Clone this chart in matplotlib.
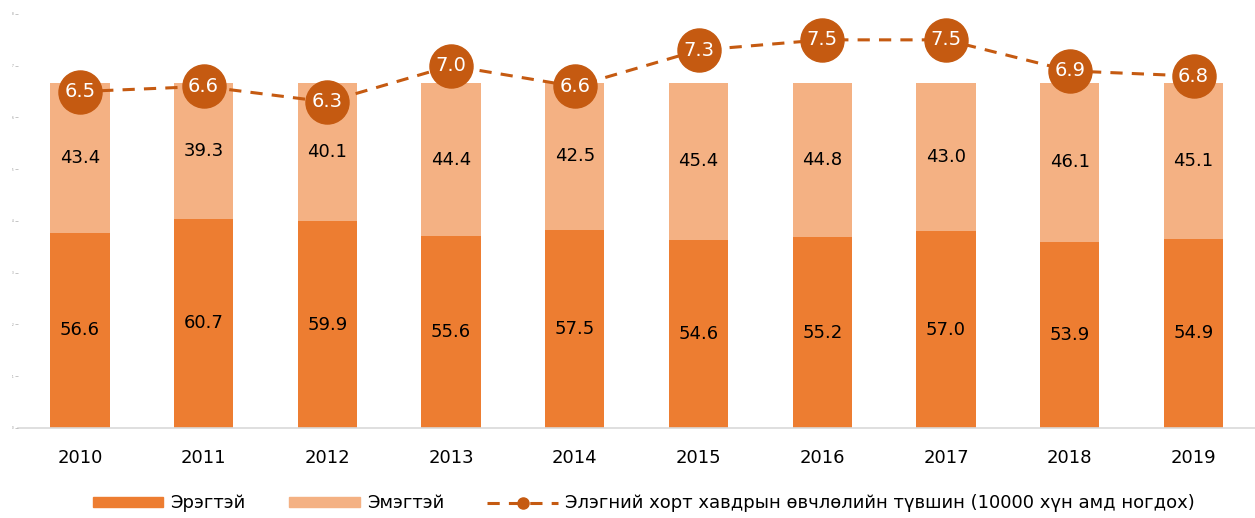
import matplotlib.pyplot as plt
import matplotlib.patches as mpatches
from matplotlib.lines import Line2D
import numpy as np

years = ['2010', '2011', '2012', '2013', '2014', '2015', '2016', '2017', '2018', '2019']
male = [56.6, 60.7, 59.9, 55.6, 57.5, 54.6, 55.2, 57.0, 53.9, 54.9]
female = [43.4, 39.3, 40.1, 44.4, 42.5, 45.4, 44.8, 43.0, 46.1, 45.1]
rate = [6.5, 6.6, 6.3, 7.0, 6.6, 7.3, 7.5, 7.5, 6.9, 6.8]

c_male = '#ED7D31'
c_female = '#F4B183'
c_line = '#C55A11'
dash = (0, (4, 3))

plt.rcParams['font.family'] = ['DejaVu Sans']

fig = plt.figure(figsize=(12.55, 5.18), dpi=100)
ax = fig.add_axes([0.0143, 0.174, 0.986, 0.799])
x = np.arange(len(years))

ax.bar(x, male, width=0.48, color=c_male, zorder=2)
ax.bar(x, female, width=0.48, bottom=male, color=c_female, zorder=2)
for i in range(len(years)):
    ax.text(x[i], male[i] / 2, f'{male[i]:.1f}', ha='center', va='center', fontsize=13, color='black', zorder=3)
    ax.text(x[i], male[i] + female[i] / 2, f'{female[i]:.1f}', ha='center', va='center', fontsize=13, color='black', zorder=3)

ax.set_xlim(-0.5, len(years) - 0.5)
ax.set_ylim(0, 120)
ax.set_xticks(x)
ax.set_xticklabels(years, fontsize=13)
ax.tick_params(axis='x', length=0, pad=15)
ax.set_yticks([])
for s in ['top', 'right', 'left']:
    ax.spines[s].set_visible(False)
ax.spines['bottom'].set_color('#D9D9D9')
ax.spines['bottom'].set_linewidth(1.2)

# line on its own scale, ticks on the left with tiny labels
ax2 = ax.twinx()
ax2.set_ylim(0, 8)
ax2.plot(x, rate, color=c_line, linestyle=dash, linewidth=2.2,
         marker='o', markersize=31, markerfacecolor=c_line, markeredgecolor=c_line, zorder=4)
for i in range(len(years)):
    ax2.text(x[i], rate[i], f'{rate[i]:.1f}', ha='center', va='center', fontsize=14, color='white', zorder=5)
ax2.yaxis.tick_left()
ax2.set_yticks(range(0, 9))
ax2.set_yticklabels([str(v) for v in range(0, 9)], fontsize=2, color='#888888')
ax2.tick_params(axis='y', length=2, width=0.6, color='#BBBBBB', pad=1)
for s in ['top', 'right', 'left', 'bottom']:
    ax2.spines[s].set_visible(False)

handles = [
    mpatches.Patch(color=c_male, label='Эрэгтэй'),
    mpatches.Patch(color=c_female, label='Эмэгтэй'),
    Line2D([0], [0], color=c_line, linestyle=dash, linewidth=2.2, marker='o', markersize=8,
           label='Элэгний хорт хавдрын өвчлөлийн түвшин (10000 хүн амд ногдох)'),
]
fig.legend(handles=handles, loc='center', bbox_to_anchor=(0.513, 0.028), ncol=3, frameon=False,
           fontsize=13, handlelength=3.9, handleheight=0.5, columnspacing=2.4, handletextpad=0.4,
           borderaxespad=0, borderpad=0)

fig.savefig('out.png', dpi=100)
